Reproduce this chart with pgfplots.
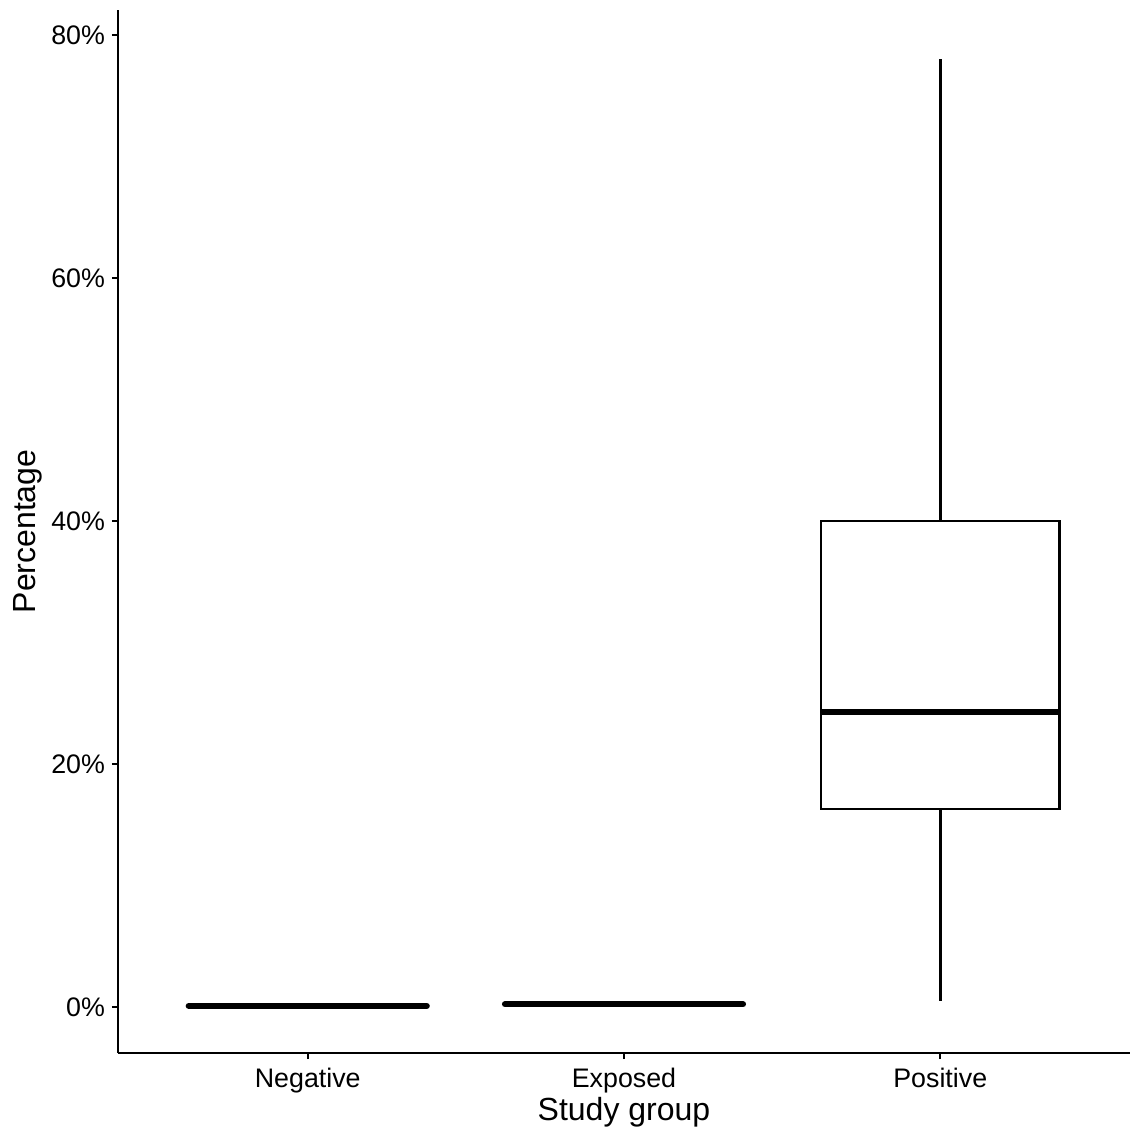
\documentclass[border=0pt]{standalone}
\usepackage{pgfplots}
\pgfplotsset{compat=1.18}
\usepgfplotslibrary{statistics}
\usepackage{fontspec}
\setmainfont{Liberation Sans}
\begin{document}
\begin{tikzpicture}
\useasboundingbox (-59pt,-39pt) rectangle (509pt,526.5pt);
\begin{axis}[
  scale only axis,
  width=506pt, height=521.5pt,
  xmin=0.4, xmax=3.6,
  ymin=-3.8, ymax=82.1,
  axis x line*=bottom, axis y line*=left,
  axis line style={line width=1pt, -},
  xtick={1,2,3},
  xticklabels={Negative,Exposed,Positive},
  ytick={0,20,40,60,80},
  yticklabels={0\%,20\%,40\%,60\%,80\%},
  tick align=outside,
  major tick length=3pt,
  tick style={line width=1pt, black},
  ticklabel style={font=\fontsize{13.4}{15}\selectfont, black},
  xticklabel style={yshift=-1pt},
  xlabel={Study group},
  ylabel={Percentage},
  label style={font=\fontsize{16}{19}\selectfont},
  xlabel style={at={(axis description cs:0.5,-0.0566)}, anchor=center},
  ylabel style={at={(axis description cs:-0.0889,0.5)}, anchor=center},
  boxplot/draw direction=y,
  boxplot/box extend=0.753,
  boxplot/whisker extend=0,
]
\addplot+[black, line width=1.3pt, solid, mark=none,
  boxplot prepared={draw position=1, lower whisker=0.08, lower quartile=0.08,
    median=0.08, upper quartile=0.08, upper whisker=0.08},
  boxplot/every median/.style={line width=3pt, line cap=round}]
  coordinates {};
\addplot+[black, line width=1.3pt, solid, mark=none,
  boxplot prepared={draw position=2, lower whisker=0.22, lower quartile=0.22,
    median=0.22, upper quartile=0.22, upper whisker=0.22},
  boxplot/every median/.style={line width=3pt, line cap=round}]
  coordinates {};
\addplot+[black, line width=1.3pt, solid, mark=none,
  boxplot prepared={draw position=3, lower whisker=0.5, lower quartile=16.3,
    median=24.3, upper quartile=40.0, upper whisker=78.1},
  boxplot/every median/.style={line width=3pt}]
  coordinates {};
\end{axis}
\end{tikzpicture}
\end{document}
